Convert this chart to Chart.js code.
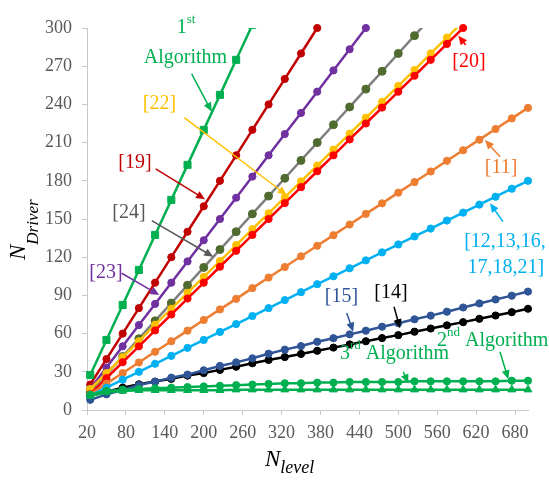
<!DOCTYPE html>
<html>
<head>
<meta charset="utf-8">
<title>N_Driver vs N_level</title>
<script src="https://cdn.jsdelivr.net/npm/chart.js@4.4.1/dist/chart.umd.min.js"></script>
<style>
  html, body { margin: 0; padding: 0; background: #fff; }
  #wrap { width: 549px; height: 480px; position: relative; }
</style>
</head>
<body>
<div id="wrap"><canvas id="driverChart"></canvas></div>
<script>
// x values shared by every series
const nLevel = [25, 50, 75, 100, 125, 150, 175, 200, 225, 250, 275, 300, 325, 350,
                375, 400, 425, 450, 475, 500, 525, 550, 575, 600, 625, 650, 675, 700];

// driver counts, one list per method (lists stop once they run off the top)
const alg1  = [27.5, 55, 82.5, 110, 137.5, 165, 192.5, 220, 247.5, 275, 302.5];
const ref19 = [20, 40, 60, 80, 100, 120, 140, 160, 180, 200, 220, 240, 260, 280, 300];
const ref23 = [16.7, 33.3, 50, 66.7, 83.3, 100, 116.7, 133.3, 150, 166.7, 183.3, 200,
               216.7, 233.3, 250, 266.7, 283.3, 300];
const ref24 = [14, 28, 42, 56, 70, 84, 98, 112, 126, 140, 154, 168, 182, 196, 210, 224,
               238, 252, 266, 280, 294, 308];
const ref22 = [16.5, 29, 41.5, 54, 67, 79.5, 92, 104.5, 117, 129.5, 142, 154.5, 167,
               179.5, 192, 204.5, 217, 229.5, 242, 254.5, 267, 280, 292.5, 305];
const ref20 = [12.5, 25, 37.5, 50, 62.5, 75, 87.5, 100, 112.5, 125, 137.5, 150, 162.5,
               175, 187.5, 200, 212.5, 225, 237.5, 250, 262.5, 275, 287.5, 300];
const ref11 = [12.3, 20.7, 29, 37.3, 45.7, 54, 62.3, 70.7, 79, 87.3, 95.7, 104, 112.3,
               120.7, 129, 137.3, 145.7, 154, 162.3, 170.7, 179, 187.3, 195.7, 204,
               212.3, 220.7, 229, 237.3];
const ref12 = [11.3, 17.5, 23.8, 30, 36.3, 42.5, 48.8, 55, 61.3, 67.5, 73.8, 80, 86.3,
               92.5, 98.8, 105, 111.3, 117.5, 123.8, 130, 136.3, 142.5, 148.8, 155,
               161.3, 167.5, 173.8, 180];
const ref15 = [8, 12.3, 15.7, 19.6, 22.3, 25.4, 27.8, 31.2, 34.6, 37.4, 40.6, 44.2, 47.4,
               50.2, 53.6, 56.4, 59.4, 62.3, 65.4, 68.2, 71.2, 74.1, 77.2, 80.5, 83.7,
               86.8, 89.8, 93];
const ref14 = [11.3, 14.4, 17.5, 20.2, 22.3, 24.5, 27, 29, 31.5, 34, 36.7, 39.3, 41.6,
               44, 46.5, 49, 51.5, 54, 56.5, 58.8, 61.5, 64, 66.5, 69, 71.6, 74.2, 76.8, 79.5];
const alg2  = [12, 15, 16, 16.5, 17, 17.5, 18, 18.5, 19, 19.5, 20, 20.5, 21, 21, 21.5,
               21.5, 22, 22, 22, 22, 22.5, 22.5, 22.5, 22.5, 22.5, 22.5, 23, 23];
const alg3  = [11, 14, 15, 15.5, 15.5, 15.5, 15.5, 15.5, 15.5, 16, 16, 16, 16, 16, 16,
               16, 16, 16, 16, 16, 16, 16, 16, 16, 16, 16, 16, 16];

// axis ticks
const xTicks = [20, 80, 140, 200, 260, 320, 380, 440, 500, 560, 620, 680];
const yTicks = [0, 30, 60, 90, 120, 150, 180, 210, 240, 270, 300];

const SERIF = "'Liberation Serif', 'Times New Roman', serif";
const GREEN = '#00B050';

function series(label, values, color, extra = {}) {
    const over = Math.max(...values) > 300;
    return Object.assign({
        label: label,
        data: values.map((v, i) => ({ x: nLevel[i], y: v })),
        borderColor: color,
        backgroundColor: color,
        pointBackgroundColor: color,
        pointBorderColor: color,
        pointBorderWidth: 1,
        borderWidth: 2.5,
        pointRadius: 3.6,
        pointStyle: 'circle',
        tension: 0,
        clip: { left: 6, right: 6, bottom: 6, top: over ? 0 : 6 }
    }, extra);
}

// text labels with leader arrows, placed in data units
const notes = [
    { runs: [['1', 20], ['st', 13, -10]], x: 172.7, y: 295.8, align: 'center', color: GREEN },
    { runs: [['Algorithm', 20]], x: 171.9, y: 272.8, align: 'center', color: GREEN },
    { runs: [['[22]', 20]], x: 131.8, y: 240.3, align: 'center', base: 'middle', color: '#FFC000' },
    { runs: [['[19]', 20]], x: 94, y: 194, align: 'center', base: 'middle', color: '#C00000' },
    { runs: [['[24]', 20]], x: 84.8, y: 154.7, align: 'center', base: 'middle', color: '#595959' },
    { runs: [['[23]', 20]], x: 49.3, y: 107.6, align: 'center', base: 'middle', color: '#7030A0' },
    { runs: [['[20]', 20]], x: 609, y: 273.5, align: 'center', base: 'middle', color: '#FF0000' },
    { runs: [['[11]', 20]], x: 658.4, y: 190, align: 'center', base: 'middle', color: '#ED7D31' },
    { runs: [['[12,13,16,', 20]], x: 664.5, y: 131.9, align: 'center', base: 'middle', color: '#00B0F0' },
    { runs: [['17,18,21]', 20]], x: 666, y: 111.5, align: 'center', base: 'middle', color: '#00B0F0' },
    { runs: [['[15]', 20]], x: 412.4, y: 89, align: 'center', base: 'middle', color: '#2F5597' },
    { runs: [['[14]', 20]], x: 488.8, y: 91.9, align: 'center', base: 'middle', color: '#000000' },
    { runs: [['2', 20], ['nd', 13, -10], [' Algorithm', 20]], x: 559.7, y: 49.9, align: 'left', color: GREEN },
    { runs: [['3', 20], ['rd', 13, -10], [' Algorithm', 20]], x: 410.1, y: 39.7, align: 'left', color: GREEN }
];

const arrows = [
    { from: [181.4, 263.9], to: [212.3, 234.3], color: GREEN },
    { from: [170, 229.6], to: [327.9, 168.8], color: '#FFC000' },
    { from: [125.9, 189.3], to: [202, 165.5], color: '#C00000' },
    { from: [119.8, 148.7], to: [214.7, 120.4], color: '#595959' },
    { from: [73.5, 107.4], to: [131.5, 90.3], color: '#7030A0' },
    { from: [603.9, 286.7], to: [592.5, 294], color: '#FF0000' },
    { from: [656.8, 198.9], to: [633.7, 212], color: '#ED7D31' },
    { from: [661.5, 147.9], to: [641.4, 162.3], color: '#00B0F0' },
    { from: [420.4, 76.2], to: [430.6, 61.5], color: '#2F5597' },
    { from: [493.4, 81.1], to: [502.6, 64.2], color: '#000000' },
    { from: [656.8, 45.8], to: [669.6, 24.1], color: GREEN },
    { from: [507.7, 30.1], to: [515.4, 21], color: GREEN }
];

function drawRuns(ctx, x, y, runs, opt) {
    ctx.save();
    ctx.translate(x, y);
    if (opt.angle) ctx.rotate(opt.angle);
    ctx.fillStyle = opt.color;
    ctx.textAlign = 'left';
    ctx.textBaseline = opt.base || 'alphabetic';
    const fontOf = r => (opt.italic ? 'italic ' : '') + r[1] + 'px ' + SERIF;
    let total = 0;
    runs.forEach(r => { ctx.font = fontOf(r); total += ctx.measureText(r[0]).width; });
    let cx = opt.align === 'center' ? -total / 2 : 0;
    runs.forEach(r => {
        ctx.font = fontOf(r);
        ctx.fillText(r[0], cx, r[2] || 0);
        cx += ctx.measureText(r[0]).width;
    });
    ctx.restore();
}

function drawArrow(ctx, x1, y1, x2, y2, color) {
    const a = Math.atan2(y2 - y1, x2 - x1);
    const c = Math.cos(a), s = Math.sin(a);
    const head = 9, half = 4;
    ctx.save();
    ctx.strokeStyle = color;
    ctx.fillStyle = color;
    ctx.lineWidth = 1.5;
    ctx.beginPath();
    ctx.moveTo(x1, y1);
    ctx.lineTo(x2 - head * 0.7 * c, y2 - head * 0.7 * s);
    ctx.stroke();
    ctx.beginPath();
    ctx.moveTo(x2, y2);
    ctx.lineTo(x2 - head * c + half * s, y2 - head * s - half * c);
    ctx.lineTo(x2 - head * c - half * s, y2 - head * s + half * c);
    ctx.closePath();
    ctx.fill();
    ctx.restore();
}

const annotate = {
    id: 'annotate',
    afterDatasetsDraw(chart) {
        const ctx = chart.ctx;
        const xs = chart.scales.x, ys = chart.scales.y;
        const area = chart.chartArea;
        arrows.forEach(a => drawArrow(ctx,
            xs.getPixelForValue(a.from[0]), ys.getPixelForValue(a.from[1]),
            xs.getPixelForValue(a.to[0]), ys.getPixelForValue(a.to[1]), a.color));
        notes.forEach(n => drawRuns(ctx, xs.getPixelForValue(n.x), ys.getPixelForValue(n.y),
            n.runs, { align: n.align, base: n.base, color: n.color }));

        // axis titles with italic subscripts
        drawRuns(ctx, area.left - 62, (area.top + area.bottom) / 2 + 41,
            [['N', 23], ['Driver', 17, 13]],
            { italic: true, color: '#000', angle: -Math.PI / 2 });
        drawRuns(ctx, (area.left + area.right) / 2 - 42.5, area.bottom + 55.7,
            [['N', 23], ['level', 18, 7.6]],
            { italic: true, color: '#000' });
    }
};

const axisColor = '#C8C8C8';
const tickFont = { family: SERIF, size: 18 };

new Chart(document.getElementById('driverChart'), {
    type: 'line',
    data: {
        datasets: [
            series('2nd Algorithm', alg2, GREEN),
            series('3rd Algorithm', alg3, GREEN, { pointStyle: 'triangle', pointRadius: 4.5 }),
            series('1st Algorithm', alg1, GREEN, { pointStyle: 'rect', pointRadius: 5 }),
            series('[15]', ref15, '#2F5597'),
            series('[14]', ref14, '#000000'),
            series('[12,13,16,17,18,21]', ref12, '#00B0F0'),
            series('[11]', ref11, '#ED7D31'),
            series('[20]', ref20, '#FF0000'),
            series('[22]', ref22, '#FFC000'),
            series('[24]', ref24, '#7F7F7F', { pointBackgroundColor: '#4F6B2F', pointBorderColor: '#4F6B2F', pointRadius: 4 }),
            series('[23]', ref23, '#7030A0'),
            series('[19]', ref19, '#C00000')
        ]
    },
    options: {
        responsive: true,
        maintainAspectRatio: false,
        animation: false,
        events: [],
        layout: { padding: { left: 0, top: 28, right: 21, bottom: 0 } },
        plugins: { legend: { display: false }, tooltip: { enabled: false } },
        scales: {
            x: {
                type: 'linear',
                min: 20,
                max: 700,
                afterBuildTicks: scale => { scale.ticks = xTicks.map(v => ({ value: v })); },
                afterFit: scale => { scale.height = 70; },
                grid: { drawOnChartArea: false, drawTicks: true, tickLength: 5, color: axisColor },
                border: { display: true, color: axisColor, width: 1 },
                ticks: { font: tickFont, color: '#595959', padding: 7, maxRotation: 0, autoSkip: false }
            },
            y: {
                type: 'linear',
                min: 0,
                max: 300,
                afterBuildTicks: scale => { scale.ticks = yTicks.map(v => ({ value: v })); },
                afterFit: scale => { scale.width = 87; },
                grid: { drawOnChartArea: false, drawTicks: true, tickLength: 5, color: axisColor },
                border: { display: true, color: axisColor, width: 1 },
                ticks: { font: tickFont, color: '#595959', padding: 10, autoSkip: false }
            }
        }
    },
    plugins: [annotate]
});
</script>
</body>
</html>
